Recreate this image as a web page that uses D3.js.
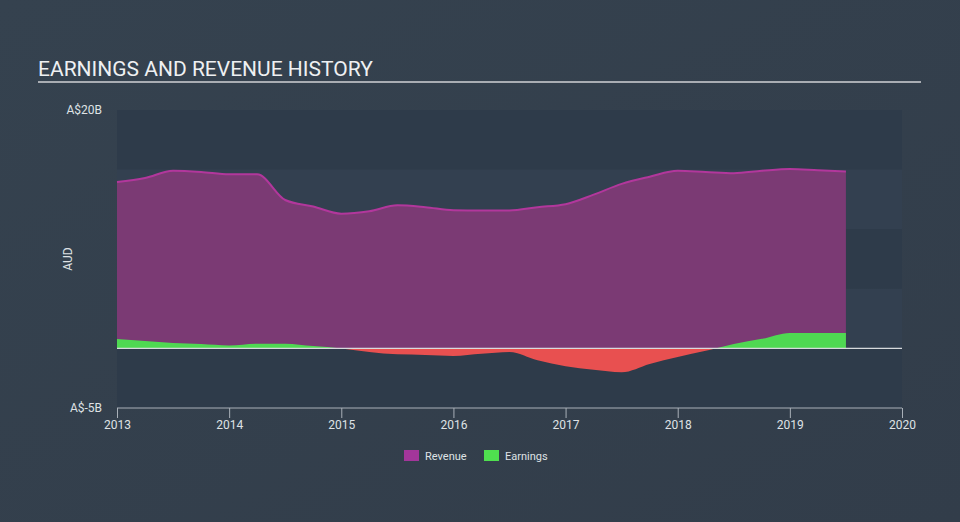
<!DOCTYPE html>
<html>
<head>
<meta charset="utf-8">
<script src="https://cdn.jsdelivr.net/npm/d3@7"></script>
<style>
  body { margin: 0; background: #333f4e; }
  svg { display: block; font-family: Roboto, "Open Sans", sans-serif; }
</style>
</head>
<body>
<script>
"use strict";

// Width and height
let w = 960;
let h = 522;

// Data (billions AUD), quarterly from 2013.0 to 2019.5
let years = [2013, 2013.25, 2013.5, 2013.75, 2014, 2014.25, 2014.5, 2014.75,
             2015, 2015.25, 2015.5, 2015.75, 2016, 2016.25, 2016.5, 2016.75,
             2017, 2017.25, 2017.5, 2017.75, 2018, 2018.25, 2018.5, 2018.75,
             2019, 2019.25, 2019.5];
let revenue = [13.95, 14.3, 14.9, 14.8, 14.6, 14.6, 12.45, 11.9,
               11.3, 11.5, 12.0, 11.85, 11.6, 11.57, 11.57, 11.85,
               12.1, 12.9, 13.8, 14.4, 14.9, 14.8, 14.7, 14.9,
               15.05, 14.95, 14.85];
let earnings = [0.78, 0.62, 0.45, 0.37, 0.25, 0.4, 0.4, 0.2,
                0.0, -0.3, -0.5, -0.55, -0.63, -0.45, -0.3, -1.0,
                -1.5, -1.8, -2.0, -1.3, -0.72, -0.2, 0.37, 0.8,
                1.3, 1.3, 1.3];
let xTicks = [2013, 2014, 2015, 2016, 2017, 2018, 2019, 2020];
let yLabels = [{v: 20, t: "A$20B"}, {v: -5, t: "A$-5B"}];
let legendItems = [{name: "Revenue", color: "#a3369a"}, {name: "Earnings", color: "#4fe04f"}];

let rows = years.map((yr, i) => ({year: yr, rev: revenue[i], earn: earnings[i]}));

let svg = d3.select("body").append("svg")
    .attr("width", w)
    .attr("height", h);

let defs = svg.append("defs");
let grad = defs.append("linearGradient").attr("id", "bg")
    .attr("x1", 0).attr("y1", 0).attr("x2", 1).attr("y2", 1);
grad.append("stop").attr("offset", 0).attr("stop-color", "#35424f");
grad.append("stop").attr("offset", 1).attr("stop-color", "#323d4a");
svg.append("rect").attr("width", w).attr("height", h).attr("fill", "url(#bg)");

let pLeft = 117, pRight = 902, pTop = 110, pBottom = 408;

let x = d3.scaleLinear().domain([2013, 2020]).range([pLeft, pRight]);
let y = d3.scaleLinear().domain([-5, 20]).range([pBottom, pTop]);

// Title
svg.append("text")
    .attr("x", 38).attr("y", 76)
    .attr("fill", "#eef0f2")
    .attr("font-size", 21)
    .text("EARNINGS AND REVENUE HISTORY");
svg.append("line")
    .attr("x1", 38).attr("x2", 921).attr("y1", 82).attr("y2", 82)
    .attr("stroke", "#a9adb3").attr("stroke-width", 2);

// Bands
let bands = [[20, 15], [15, 10], [10, 5], [5, 0], [0, -5]];
svg.append("g").selectAll("rect")
    .data(bands).enter().append("rect")
    .attr("x", pLeft).attr("width", pRight - pLeft)
    .attr("y", d => y(d[0])).attr("height", d => y(d[1]) - y(d[0]))
    .attr("fill", (d, i) => i % 2 === 0 ? "#2e3b4a" : "#334050");

// Revenue area
let revArea = d3.area()
    .x(d => x(d.year)).y0(y(0)).y1(d => y(d.rev))
    .curve(d3.curveMonotoneX);
let revLine = d3.line()
    .x(d => x(d.year)).y(d => y(d.rev))
    .curve(d3.curveMonotoneX);
svg.append("path").datum(rows)
    .attr("d", revArea)
    .attr("fill", "#7b3a74");
svg.append("path").datum(rows)
    .attr("d", revLine)
    .attr("fill", "none")
    .attr("stroke", "#b2379c")
    .attr("stroke-width", 2);

// Earnings area, green above zero, red below
defs.append("clipPath").attr("id", "above")
    .append("rect").attr("x", pLeft).attr("y", pTop)
    .attr("width", pRight - pLeft).attr("height", y(0) - pTop);
defs.append("clipPath").attr("id", "below")
    .append("rect").attr("x", pLeft).attr("y", y(0))
    .attr("width", pRight - pLeft).attr("height", pBottom - y(0));
let earnArea = d3.area()
    .x(d => x(d.year)).y0(y(0)).y1(d => y(d.earn))
    .curve(d3.curveMonotoneX);
svg.append("path").datum(rows)
    .attr("d", earnArea)
    .attr("clip-path", "url(#above)")
    .attr("fill", "#4fd852");
svg.append("path").datum(rows)
    .attr("d", earnArea)
    .attr("clip-path", "url(#below)")
    .attr("fill", "#e85050");

// Zero line
svg.append("line")
    .attr("x1", pLeft).attr("x2", pRight)
    .attr("y1", y(0)).attr("y2", y(0))
    .attr("stroke", "#d8dadd").attr("stroke-width", 1.2);

// X axis
let xAxis = svg.append("g")
    .attr("transform", `translate(0,${pBottom})`)
    .call(d3.axisBottom(x).tickValues(xTicks).tickFormat(d3.format("d")).tickSize(10).tickPadding(2));
xAxis.select(".domain").attr("stroke", "#a9b0b8").attr("d", `M${pLeft},0H${pRight}`);
xAxis.selectAll(".tick line").attr("stroke", "#a9b0b8").attr("y1", 0).attr("y2", 10);
xAxis.selectAll(".tick text")
    .attr("fill", "#dfe2e5")
    .attr("font-size", 12)
    .attr("font-family", "Roboto, sans-serif");

// Y labels
svg.append("g").selectAll("text")
    .data(yLabels).enter().append("text")
    .attr("x", 102).attr("y", d => y(d.v) + 4)
    .attr("text-anchor", "end")
    .attr("fill", "#dfe2e5")
    .attr("font-size", 12)
    .text(d => d.t);

svg.append("text")
    .attr("transform", `translate(72,${(pTop + pBottom) / 2}) rotate(-90)`)
    .attr("text-anchor", "middle")
    .attr("fill", "#dfe2e5")
    .attr("font-size", 12)
    .text("AUD");

// Legend
let legend = svg.append("g").attr("transform", "translate(404,450)");
let li = legend.selectAll("g").data(legendItems).enter().append("g")
    .attr("transform", (d, i) => `translate(${i * 80},0)`);
li.append("rect").attr("width", 15).attr("height", 11).attr("fill", d => d.color);
li.append("text").attr("x", 21).attr("y", 10)
    .attr("fill", "#dfe2e5").attr("font-size", 11)
    .text(d => d.name);
</script>
</body>
</html>
